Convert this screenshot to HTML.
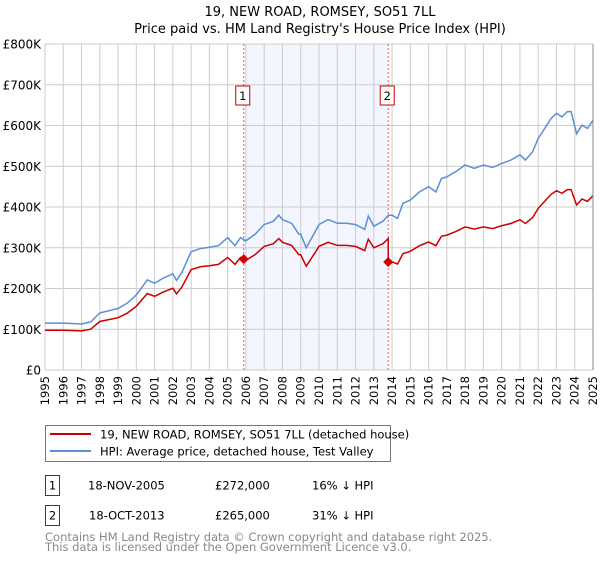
<!DOCTYPE html>
<html><head><meta charset="utf-8"><style>
body{margin:0;background:#fff;width:600px;height:560px;overflow:hidden;font-family:"DejaVu Sans","Liberation Sans",sans-serif;}
svg text{font-family:"DejaVu Sans","Liberation Sans",sans-serif;}
</style></head><body>
<svg id="chart" width="600" height="560" viewBox="0 0 600 560" xmlns="http://www.w3.org/2000/svg">
<text x="320" y="16" font-size="13" text-anchor="middle">19, NEW ROAD, ROMSEY, SO51 7LL</text>
<text x="320" y="33" font-size="13" text-anchor="middle">Price paid vs. HM Land Registry's House Price Index (HPI)</text>
<g id="plot"></g>
<g>
<rect x="45.5" y="425.5" width="345" height="36" fill="#fff" stroke="#777"/>
<line x1="50" y1="434" x2="91" y2="434" stroke="#cc0000" stroke-width="2"/>
<text x="100" y="438.5" font-size="11.5">19, NEW ROAD, ROMSEY, SO51 7LL (detached house)</text>
<line x1="50" y1="451" x2="91" y2="451" stroke="#5b8fd6" stroke-width="2"/>
<text x="100" y="455.5" font-size="11.5">HPI: Average price, detached house, Test Valley</text>
</g>
<g font-size="11.5">
<rect x="45.5" y="475.5" width="14" height="20" fill="#fff" stroke="#cc0000"/>
<text x="52.5" y="489.5" text-anchor="middle">1</text>
<text x="88" y="489.5">18-NOV-2005</text><text x="215" y="489.5">£272,000</text><text x="312" y="489.5">16% ↓ HPI</text>
</g>
<g font-size="11.5">
<rect x="45.5" y="505.5" width="14" height="20" fill="#fff" stroke="#cc0000"/>
<text x="52.5" y="519.5" text-anchor="middle">2</text>
<text x="89" y="519.5">18-OCT-2013</text><text x="215" y="519.5">£265,000</text><text x="312" y="519.5">31% ↓ HPI</text>
</g>
<text x="45" y="541" font-size="11.5" fill="#888">Contains HM Land Registry data © Crown copyright and database right 2025.</text>
<text x="45" y="551" font-size="11.5" fill="#888">This data is licensed under the Open Government Licence v3.0.</text>
</svg>
<script>
const hpiYears=[1995,1996,1997,1997.5,1998,1999,1999.5,2000,2000.6,2001,2001.5,2002,2002.2,2002.5,2003,2003.5,2004,2004.5,2005,2005.4,2005.7,2006,2006.5,2007,2007.5,2007.8,2008,2008.5,2008.9,2009,2009.3,2009.8,2010,2010.5,2011,2011.5,2012,2012.5,2012.7,2013,2013.5,2013.8,2014,2014.3,2014.6,2015,2015.5,2016,2016.4,2016.7,2017,2017.5,2018,2018.5,2019,2019.5,2020,2020.5,2021,2021.3,2021.7,2022,2022.3,2022.7,2023,2023.3,2023.6,2023.8,2024.1,2024.4,2024.7,2025];
const hpiValues=[115,115,113,118,140,151,164,184,221,213,226,236,220,240,290,298,301,305,325,305,325,317,333,357,365,380,369,360,333,333,300,340,357,369,360,360,357,345,378,353,365,380,380,372,409,417,437,450,437,470,474,487,503,495,503,497,507,515,528,515,536,568,589,617,630,621,634,634,580,601,593,613];
const saleYears=[2005.88,2013.79];
const salePrices=[272,265];
const saleLabels=["1","2"];
const yTicks=[0,100,200,300,400,500,600,700,800];
const yTickLabels=["£0","£100K","£200K","£300K","£400K","£500K","£600K","£700K","£800K"];
const NS="http://www.w3.org/2000/svg";
const X0=45,X1=593,Y0=370,Y1=44;
const xs=y=>X0+(y-1995)/30*(X1-X0);
const ys=v=>Y0-v/800*(Y0-Y1);
const g=document.getElementById('plot');
function mk(t,a){const e=document.createElementNS(NS,t);for(const k in a)e.setAttribute(k,a[k]);g.appendChild(e);return e;}
function hpiAt(y){for(let i=0;i<hpiYears.length-1;i++){if(y>=hpiYears[i]&&y<=hpiYears[i+1]){const f=(y-hpiYears[i])/(hpiYears[i+1]-hpiYears[i]);return hpiValues[i]+f*(hpiValues[i+1]-hpiValues[i]);}}return hpiValues[hpiValues.length-1];}
let e=mk('rect',{x:xs(saleYears[0]),y:Y1,width:xs(saleYears[1])-xs(saleYears[0]),height:Y0-Y1,fill:'#f3f6fe'});


for(let yr=1995;yr<=2025;yr++){
 e=mk('line',{x1:xs(yr),x2:xs(yr),y1:Y1,y2:Y0,stroke:'#cccccc','stroke-width':1});
 
 
 e=mk('text',{x:0,y:0,'font-size':11.5,'text-anchor':'end',transform:`translate(${xs(yr)+4},${Y0+6}) rotate(-90)`});
 e.textContent=yr;
 
 
}
yTicks.forEach((v,i)=>{
 e=mk('line',{x1:X0,x2:X1,y1:ys(v),y2:ys(v),stroke:'#cccccc','stroke-width':1});
 
 
 e=mk('text',{x:X0-4,y:ys(v)+4.5,'font-size':12,'text-anchor':'end'});
 e.textContent=yTickLabels[i];
 
 
});
saleYears.forEach((sy,i)=>{
 e=mk('line',{x1:xs(sy),x2:xs(sy),y1:Y1,y2:Y0,stroke:'#e06060','stroke-width':1,'stroke-dasharray':'2,2'});
 
 
 e=mk('rect',{x:xs(sy)-8,y:86,width:14,height:19,fill:'#fff',stroke:'#cc0000'});
 
 
 e=mk('text',{x:xs(sy)-1,y:100,'font-size':11.5,'text-anchor':'middle'});
 e.textContent=saleLabels[i];
 
 
});
let hp=hpiYears.map((y,i)=>`${i?'L':'M'}${xs(y).toFixed(1)},${ys(hpiValues[i]).toFixed(1)}`).join('');
e=mk('path',{d:hp,fill:'none',stroke:'#5b8fd6','stroke-width':1.5});


// property line: indexed from sale prices via HPI
const r1=salePrices[0]/hpiAt(saleYears[0]),r2=salePrices[1]/hpiAt(saleYears[1]);
let pts=[];
hpiYears.forEach((y,i)=>{ if(y<saleYears[1]) pts.push([y,hpiValues[i]*r1]); });
pts.push([saleYears[1],hpiAt(saleYears[1])*r1]);
pts.push([saleYears[1],salePrices[1]]);
hpiYears.forEach((y,i)=>{ if(y>saleYears[1]) pts.push([y,hpiValues[i]*r2]); });
e=mk('path',{d:pts.map((p,i)=>`${i?'L':'M'}${xs(p[0]).toFixed(1)},${ys(p[1]).toFixed(1)}`).join(''),fill:'none',stroke:'#cc0000','stroke-width':1.5});


saleYears.forEach((sy,i)=>{
 const cx=xs(sy),cy=ys(salePrices[i]);
 e=mk('path',{d:`M${cx},${cy-5}L${cx+5},${cy}L${cx},${cy+5}L${cx-5},${cy}Z`,fill:'#cc0000'});
 
 
});
e=mk('line',{x1:X1,x2:X1,y1:Y1,y2:Y0,stroke:'#888','stroke-width':1});


</script>
</body></html>
